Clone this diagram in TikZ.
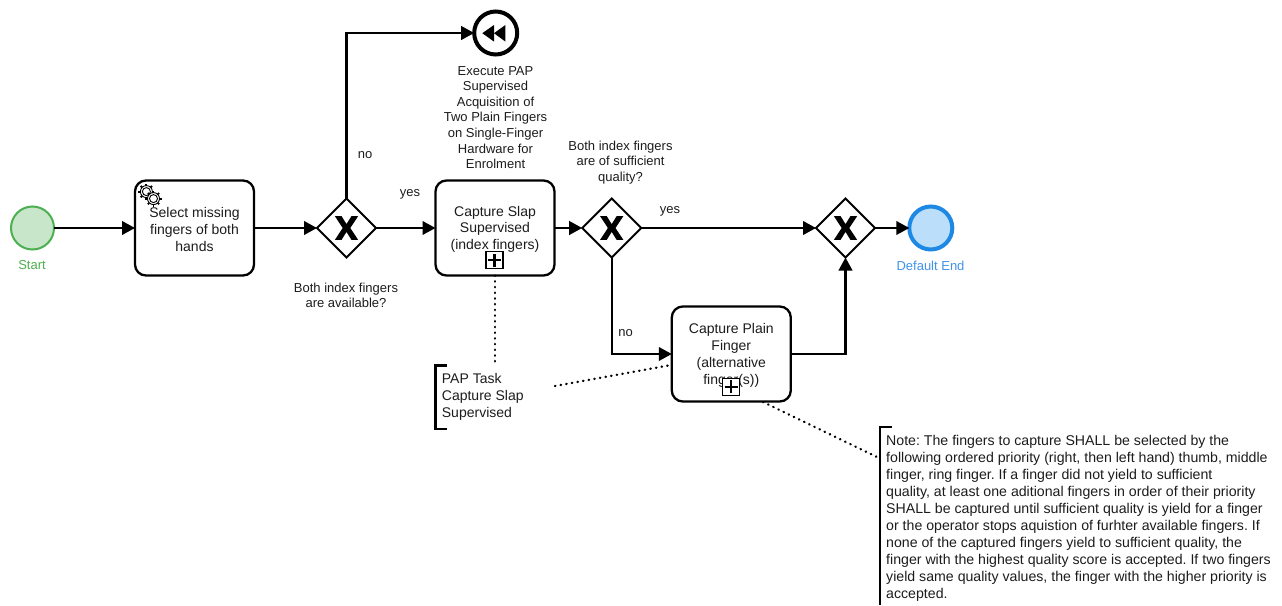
\documentclass[tikz,border=0pt]{standalone}
\usepackage{fontspec}
\setmainfont{Liberation Sans}
\usetikzlibrary{arrows.meta,shapes.geometric}
\definecolor{startline}{HTML}{4CAF50}
\definecolor{startfill}{HTML}{C8E6C9}
\definecolor{endline}{HTML}{1E88E5}
\definecolor{endfill}{HTML}{BBDEFB}
\definecolor{endtext}{HTML}{3F94E8}
\definecolor{ink}{HTML}{1C1C1C}
\frenchspacing
\tikzset{
  bigtext/.style={font=\frenchspacing\fontsize{14}{16.8}\selectfont,text=ink},
  notetext/.style={font=\frenchspacing\fontsize{14.15}{17.1}\selectfont,text=ink},
  smalltext/.style={font=\frenchspacing\fontsize{13}{15.6}\selectfont,text=ink},
  task/.style={draw=black,line width=2.3pt,rounded corners=11pt,fill=white,minimum width=119pt,minimum height=95pt,inner sep=0pt,outer sep=0pt,align=center,bigtext},
  gateway/.style={diamond,aspect=1,draw=black,line width=2pt,fill=white,minimum width=59pt,minimum height=59pt,inner sep=0pt,outer sep=0pt},
  event/.style={circle,minimum size=43pt,inner sep=0pt,outer sep=0pt},
  flow/.style={draw=black,line width=2.3pt,-{Triangle[length=13pt,width=13.5pt]}},
  assoc/.style={draw=black,line width=2.4pt,line cap=round,dash pattern=on 0.4pt off 5.3pt},
  lbl/.style={smalltext,align=center,inner sep=0pt},
  plusbox/.style={draw=black,line width=1.1pt,fill=white,minimum size=17pt,inner sep=0pt,outer sep=0pt},
  bracket/.style={draw=black,line width=2.3pt}
}
\newcommand{\tstrut}{\rule{0pt}{12.6pt}}
\newcommand{\gwcross}[1]{%
  \fill[black,yshift=1pt] ([shift={(-11.6pt,-11.8pt)}]#1.center) -- ([shift={(-4.9pt,-11.8pt)}]#1.center) -- ([shift={(0pt,-3.9pt)}]#1.center) -- ([shift={(4.9pt,-11.8pt)}]#1.center) -- ([shift={(11.6pt,-11.8pt)}]#1.center) -- ([shift={(3.8pt,0pt)}]#1.center) -- ([shift={(11.6pt,11.8pt)}]#1.center) -- ([shift={(4.9pt,11.8pt)}]#1.center) -- ([shift={(0pt,3.9pt)}]#1.center) -- ([shift={(-4.9pt,11.8pt)}]#1.center) -- ([shift={(-11.6pt,11.8pt)}]#1.center) -- ([shift={(-3.8pt,0pt)}]#1.center) -- cycle;}
\newcommand{\plusmark}[1]{%
  \draw[line width=2.2pt,black] ([xshift=-6.5pt]#1.center) -- ([xshift=6.5pt]#1.center);
  \draw[line width=2.2pt,black] ([yshift=-6.5pt]#1.center) -- ([yshift=6.5pt]#1.center);}
\newcommand{\gearicon}[2]{%
  \foreach \a in {0,45,...,315}
    \draw[line width=1.9pt,black] (#1,#2) ++(\a:5.5pt) -- ++(\a:2.5pt);
  \draw[line width=0.9pt,black,fill=white] (#1,#2) circle[radius=6pt];
  \draw[line width=0.9pt,black,fill=white] (#1,#2) circle[radius=4pt];}
\begin{document}
\begin{tikzpicture}[x=1pt,y=-1pt]
\useasboundingbox (0,0) rectangle (1282,605);

% events
\node[event,draw=startline,fill=startfill,line width=2pt] (start) at (32.5,228) {};
\node[event,draw=endline,fill=endfill,line width=4pt] (end) at (930.8,228) {};
\node[event,draw=black,fill=white,line width=4pt] (rew) at (495.7,33) {};
\fill[black] (482.3,33.2) -- (494,25) -- (494,41.6) -- cycle;
\fill[black] (494,33.2) -- (505.4,25) -- (505.4,41.6) -- cycle;

% tasks
\node[task] (t1) at (194.5,228) {\tstrut Select missing\\fingers of both\\hands};
\node[task] (t2) at (495,228) {\tstrut Capture Slap\\Supervised\\(index fingers)};
\node[task] (t3) at (731.3,354) {\tstrut Capture Plain\\Finger\\(alternative\\finger(s))};

% gateways
\node[gateway] (g1) at (346.5,228) {};
\node[gateway] (g2) at (611.7,228) {};
\node[gateway] (g3) at (845.5,228) {};
\gwcross{g1}\gwcross{g2}\gwcross{g3}

% task markers
\gearicon{146.4}{191.6}
\gearicon{153.5}{198.6}
\node[plusbox] (p2) at (494.5,260) {};
\plusmark{p2}
\node[plusbox] (p3) at (731,386.7) {};
\plusmark{p3}

% sequence flows
\draw[flow] (start) -- (t1);
\draw[flow] (t1) -- (g1);
\draw[flow] (g1) -- (t2);
\draw[flow] (g1.north) |- (rew.west);
\draw[flow] (t2) -- (g2);
\draw[flow] (g2) -- (g3);
\draw[flow] (g3) -- (end);
\draw[flow] (g2.south) |- (t3.west);
\draw[flow] (t3.east) -| (g3.south);

% labels
\node[lbl,text=startline] (lstart) at (32,265.5) {Start};
\node[lbl,text=endtext] (lend) at (930.5,265.5) {Default End};
\node[lbl] (lg1) at (346,295.5) {Both index fingers\\are available?};
\node[lbl] (lrew) at (495.5,117.5) {Execute PAP\\Supervised\\Acquisition of\\Two Plain Fingers\\on Single-Finger\\Hardware for\\Enrolment};
\node[lbl] (lg2) at (620.5,162.5) {Both index fingers\\are of sufficient\\quality?};
\node[lbl] (no1) at (365,155) {no};
\node[lbl] (yes1) at (410,194) {yes};
\node[lbl] (yes2) at (670,211) {yes};
\node[lbl] (no2) at (625.5,333) {no};

% annotations
\node[bigtext,align=left,anchor=west,inner sep=0pt] (pap) at (441.7,397) {PAP Task\\Capture Slap\\Supervised};
\node[notetext,align=left,anchor=west,inner sep=0pt] (note) at (886,518.3) {Note: The fingers to capture SHALL be selected by the\\following ordered priority (right, then left hand) thumb, middle\\finger, ring finger. If a finger did not yield to sufficient\\quality, at least one aditional fingers in order of their priority\\SHALL be captured until sufficient quality is yield for a finger\\or the operator stops aquistion of furhter available fingers. If\\none of the captured fingers yield to sufficient quality, the\\finger with the highest quality score is accepted. If two fingers\\yield same quality values, the finger with the higher priority is\\accepted.};
\draw[bracket] (447,365.5) -- (435.5,365.5) -- (435.5,429) -- (447,429);
\draw[bracket] (892,427) -- (880,427) -- (880,605);

\coordinate (a1) at (495,362);
\coordinate (a2) at (555,386);
\coordinate (a3) at (671,365);
\coordinate (a4) at (763,402);
\coordinate (a5) at (877,457);
\draw[assoc] (t2.south) -- (a1);
\draw[assoc] (a2) -- (a3);
\draw[assoc] (a4) -- (a5);
\end{tikzpicture}
\end{document}
